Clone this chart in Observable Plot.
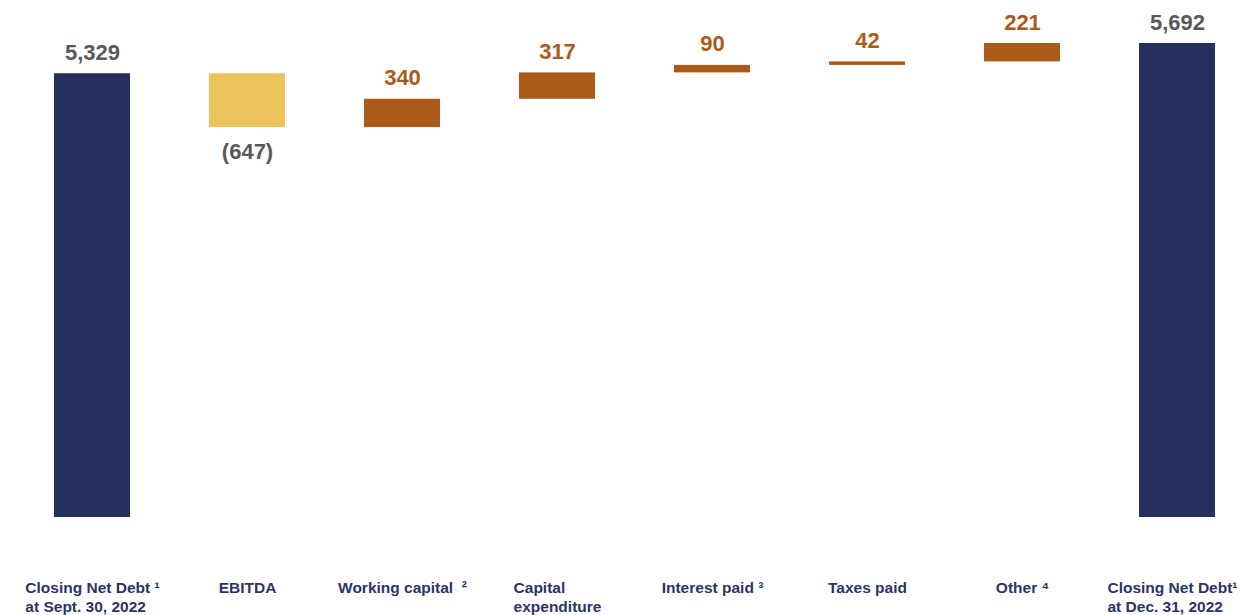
<!DOCTYPE html>
<html>
<head>
<meta charset="utf-8">
<script src="https://cdn.jsdelivr.net/npm/d3@7"></script>
<script src="https://cdn.jsdelivr.net/npm/@observablehq/plot@0.6"></script>
<style>
  html, body { margin: 0; padding: 0; background: #ffffff; }
  #chart svg { display: block; }
</style>
</head>
<body>
<div id="chart"></div>
<script>
const categories = [
  "Closing Net Debt ¹\nat Sept. 30, 2022",
  "EBITDA",
  "Working capital  ²",
  "Capital\nexpenditure",
  "Interest paid ³",
  "Taxes paid",
  "Other ⁴",
  "Closing Net Debt¹\nat Dec. 31, 2022"
];
const values = [5329, -647, 340, 317, 90, 42, 221, 5692];
const kinds = ["total", "decrease", "increase", "increase", "increase", "increase", "increase", "total"];

const NAVY = "#26305f";
const GOLD = "#edc35d";
const ORANGE = "#ac5a18";
const GRAY = "#595959";
const LABEL = "#2b3564";

// build waterfall table
let running = 0;
const data = categories.map((c, i) => {
  const v = values[i], k = kinds[i];
  let y1, y2;
  if (k === "total") { y1 = 0; y2 = v; running = v; }
  else { y1 = running; y2 = running + v; running = y2; }
  return {category: c, value: v, kind: k, y1, y2, top: Math.max(y1, y2), bottom: Math.min(y1, y2)};
});
const fmt = d3.format(",");
const label = v => v < 0 ? `(${fmt(-v)})` : fmt(v);

const W = 1241, H = 615;
const xOpts = {type: "band", domain: categories, range: [54, 1215], paddingInner: 0.5097, paddingOuter: 0};
const xs = Plot.scale({x: xOpts});

const catFont = "bold 15.5px 'Liberation Sans'";
const ctx = document.createElement("canvas").getContext("2d");
ctx.font = catFont;
const blockWidth = c => d3.max(c.split("\n"), l => ctx.measureText(l).width);
const labelDx = c => {
  const w = blockWidth(c);
  const center = xs.apply(c) + xs.bandwidth / 2;
  return Math.min(-w / 2, W - 4 - w - center);
};

const chart = Plot.plot({
  width: W,
  height: H,
  marginTop: 0,
  marginLeft: 0,
  marginRight: 0,
  marginBottom: 98,
  style: {fontFamily: "'Liberation Sans', Arial, sans-serif", background: "#ffffff"},
  x: {...xOpts, axis: null},
  y: {domain: [0, 5692], range: [517, 43], axis: null},
  color: {domain: ["total", "decrease", "increase"], range: [NAVY, GOLD, ORANGE]},
  marks: [
    Plot.barY(data, {x: "category", y1: "y1", y2: "y2", fill: "kind", inset: 0}),
    Plot.text(data.filter(d => d.kind === "total"), {
      x: "category", y: "top", text: d => label(d.value), lineAnchor: "bottom", dy: -14,
      fill: GRAY, fontSize: 22, fontWeight: "bold"
    }),
    Plot.text(data.filter(d => d.kind === "increase"), {
      x: "category", y: "top", text: d => label(d.value), lineAnchor: "bottom", dy: -14,
      fill: ORANGE, fontSize: 22, fontWeight: "bold"
    }),
    Plot.text(data.filter(d => d.kind === "decrease"), {
      x: "category", y: "bottom", text: d => label(d.value), lineAnchor: "top", dy: 16,
      fill: GRAY, fontSize: 22, fontWeight: "bold"
    }),
    ...categories.map(c => Plot.text([c], {
      x: d => d, text: d => d, frameAnchor: "bottom", lineAnchor: "top", dy: 62,
      textAnchor: "start", dx: labelDx(c), lineHeight: 1.24,
      fill: LABEL, fontSize: 15.5, fontWeight: "bold"
    }))
  ]
});
document.getElementById("chart").appendChild(chart);
</script>
</body>
</html>
